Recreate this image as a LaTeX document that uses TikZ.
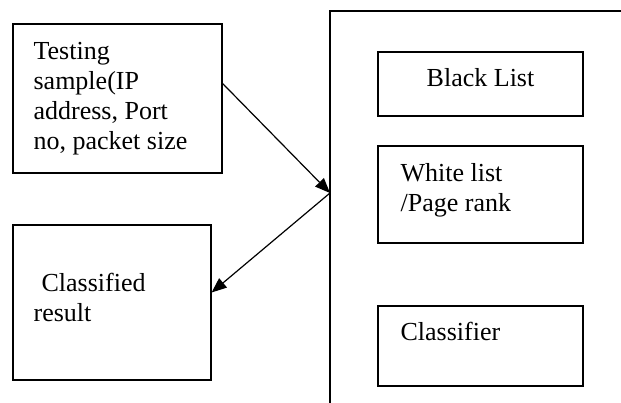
\documentclass[tikz,border=0pt]{standalone}
\usepackage{fontspec}
\setmainfont{Liberation Serif}
\usetikzlibrary{
  calc,
  positioning,
  arrows.meta
}

\begin{document}
\begin{tikzpicture}[x=1pt, y=-1pt, box/.style={rectangle, draw, line width=1.2pt, inner sep=0pt}, txt/.style={anchor=base west, inner sep=0pt, font=\fontsize{26}{30}\selectfont}, >={Triangle[length=15pt,width=12pt]}, line width=1.2pt]
\useasboundingbox (0,0) rectangle (621,403);
% left boxes
\node[box, minimum width=209pt, minimum height=149pt] (test) at (117.5,98.5) {};
\node[box, minimum width=198pt, minimum height=155pt] (res) at (112,302.5) {};
% frame on the right, cut by the page
\coordinate (fbot) at (330,403);
\coordinate (ftop) at (330,11);
\coordinate (fright) at (621,11);
\draw (fbot) -- (ftop) -- (fright);
\coordinate (hub) at (330,193);
% inner boxes
\node[box, minimum width=205pt, minimum height=64pt] (black) at (480.5,84) {};
\node[box, minimum width=205pt, minimum height=97pt] (white) at (480.5,194.5) {};
\node[box, minimum width=205pt, minimum height=80pt] (cls) at (480.5,346) {};
% texts
\node[txt] (t1) at (33,60) {Testing};
\node[txt] (t2) at (33,90) {sample(IP};
\node[txt] (t3) at (33,120) {address, Port};
\node[txt] (t4) at (33,150) {no, packet size};
\node[txt, anchor=base] (bl) at (480.5,87) {Black List};
\node[txt] (w1) at (400,182) {White list};
\node[txt] (w2) at (400,212) {/Page rank};
\node[txt] (cl) at (400,340) {Classifier};
\node[txt] (r1) at (41,291) {Classified};
\node[txt] (r2) at (33,321) {result};
% arrows
\draw[->] ($(test.north east)!0.4!(test.south east)$) -- (hub);
\draw[->] (hub) -- ([yshift=10pt]res.east);
\end{tikzpicture}
\end{document}
